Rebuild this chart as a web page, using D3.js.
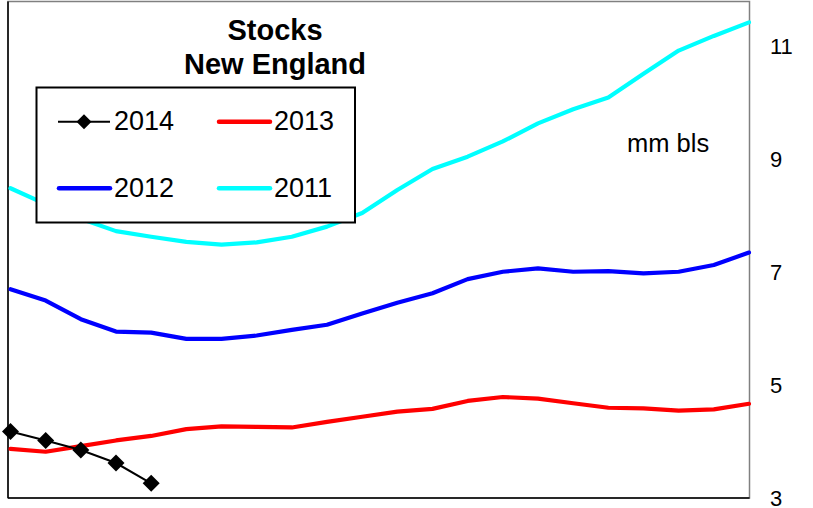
<!DOCTYPE html>
<html>
<head>
<meta charset="utf-8">
<script src="https://cdn.jsdelivr.net/npm/d3@7"></script>
<style>
  html, body { margin: 0; padding: 0; background: #fff; }
  svg { display: block; font-family: "Liberation Sans", Arial, sans-serif; }
</style>
</head>
<body>
<svg id="chart" width="813" height="508"></svg>
<script>
// Weekly distillate stocks, New England (million barrels)
const weeks = d3.range(1, 23);           // 22 weekly observations
const yTicks = [3, 5, 7, 9, 11];

const stocks2014 = [4.18, 4.02, 3.85, 3.62, 3.26];
const stocks2013 = [3.87, 3.82, 3.92, 4.02, 4.10, 4.22, 4.27, 4.26, 4.25, 4.35, 4.44,
                    4.53, 4.58, 4.72, 4.79, 4.76, 4.68, 4.60, 4.59, 4.55, 4.57, 4.67];
const stocks2012 = [6.70, 6.50, 6.17, 5.95, 5.93, 5.82, 5.82, 5.88, 5.98, 6.07, 6.27,
                    6.46, 6.63, 6.88, 7.01, 7.07, 7.01, 7.02, 6.98, 7.01, 7.13, 7.35];
const stocks2011 = [8.49, 8.21, 7.95, 7.73, 7.63, 7.54, 7.49, 7.53, 7.63, 7.81, 8.05,
                    8.46, 8.83, 9.05, 9.32, 9.64, 9.89, 10.10, 10.52, 10.93, 11.19, 11.43];

const seriesNames = ["2014", "2013", "2012", "2011"];
const seriesColors = ["#000000", "#ff0000", "#0000ff", "#00ffff"];

const svg = d3.select("#chart");
svg.append("rect").attr("width", 813).attr("height", 508).attr("fill", "#fff");

const plot = { left: 8, right: 749.5, top: 1.5, bottom: 498 };

const x = d3.scalePoint().domain(weeks).range([10.5, 749]);
const y = d3.scaleLinear().domain([3, 11.8]).range([plot.bottom, plot.top]);

// plot frame: gray outline, black axis lines on left and bottom
svg.append("rect")
  .attr("x", plot.left).attr("y", plot.top)
  .attr("width", plot.right - plot.left).attr("height", plot.bottom - plot.top)
  .attr("fill", "none").attr("stroke", "#808080").attr("stroke-width", 1.5);
svg.append("line").attr("x1", plot.left).attr("x2", plot.left)
  .attr("y1", plot.top).attr("y2", plot.bottom).attr("stroke", "#000").attr("stroke-width", 1.5);
svg.append("line").attr("x1", plot.left).attr("x2", plot.right)
  .attr("y1", plot.bottom).attr("y2", plot.bottom).attr("stroke", "#000").attr("stroke-width", 1.5);

// right-hand value axis: labels only
const axis = d3.axisRight(y).tickValues(yTicks).tickSize(0).tickPadding(0).tickFormat(d3.format("d"));
const axisG = svg.append("g").attr("transform", `translate(770,0)`).call(axis);
axisG.select(".domain").remove();
axisG.selectAll("text")
  .attr("font-size", 22).attr("fill", "#000")
  .attr("font-family", "'Liberation Sans', Arial, sans-serif")
  .attr("x", 0).attr("dy", "0.33em");

const line = d3.line()
  .x((d, i) => x(weeks[i]))
  .y(d => y(d));

svg.append("clipPath").attr("id", "plotClip")
  .append("rect").attr("x", plot.left).attr("y", plot.top - 3)
  .attr("width", plot.right - plot.left + 2).attr("height", plot.bottom - plot.top + 3);

const g = svg.append("g").attr("clip-path", "url(#plotClip)");

[[stocks2011, "#00ffff"], [stocks2012, "#0000ff"], [stocks2013, "#ff0000"]].forEach(([vals, col]) => {
  g.append("path").datum(vals)
    .attr("d", line)
    .attr("fill", "none").attr("stroke", col).attr("stroke-width", 4.2)
    .attr("stroke-linejoin", "round").attr("stroke-linecap", "round");
});

const diamond = (cx, cy, r) => `M${cx},${cy - r}L${cx + r},${cy}L${cx},${cy + r}L${cx - r},${cy}Z`;

svg.append("path").datum(stocks2014)
  .attr("d", line)
  .attr("fill", "none").attr("stroke", "#000").attr("stroke-width", 2);
svg.selectAll(".mk2014").data(stocks2014).enter().append("path")
  .attr("class", "mk2014")
  .attr("d", (d, i) => diamond(x(weeks[i]), y(d), 8.5))
  .attr("fill", "#000");

// title
const title = svg.append("text").attr("text-anchor", "middle")
  .attr("font-weight", "bold").attr("font-size", 29).attr("fill", "#000");
title.append("tspan").attr("x", 275).attr("y", 39.5).text("Stocks");
title.append("tspan").attr("x", 275).attr("y", 73.5).text("New England");

// units
svg.append("text").attr("x", 627).attr("y", 152)
  .attr("font-size", 25.5).attr("fill", "#000").text("mm bls");

// legend
const legend = svg.append("g");
legend.append("rect").attr("x", 36.5).attr("y", 87.5).attr("width", 318.5).attr("height", 135)
  .attr("fill", "#fff").attr("stroke", "#000").attr("stroke-width", 2);

const legendPos = [
  { lx: 58, ly: 121.7 }, { lx: 218, ly: 121.7 },
  { lx: 58, ly: 188.3 }, { lx: 218, ly: 188.3 }
];
seriesNames.forEach((name, i) => {
  const p = legendPos[i];
  const item = legend.append("g");
  if (i === 0) {
    item.append("line").attr("x1", p.lx).attr("x2", p.lx + 52).attr("y1", p.ly).attr("y2", p.ly)
      .attr("stroke", "#000").attr("stroke-width", 2);
    item.append("path").attr("d", diamond(p.lx + 26, p.ly, 7.5)).attr("fill", "#000");
  } else {
    item.append("line").attr("x1", p.lx + 1).attr("x2", p.lx + 52).attr("y1", p.ly).attr("y2", p.ly)
      .attr("stroke", seriesColors[i]).attr("stroke-width", 4.5).attr("stroke-linecap", "round");
  }
  item.append("text").attr("x", p.lx + 56).attr("y", p.ly + 8.5)
    .attr("font-size", 27).attr("fill", "#000").text(name);
});
</script>
</body>
</html>
